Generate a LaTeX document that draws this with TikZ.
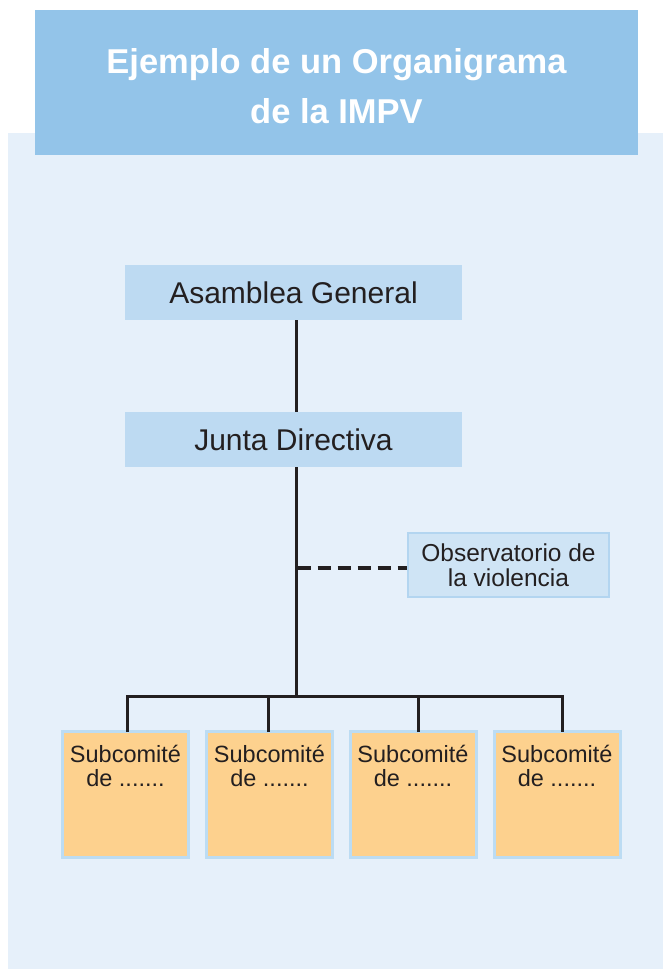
\documentclass[tikz,border=0pt]{standalone}
\usepackage{fontspec}
\setmainfont{Liberation Sans}
\definecolor{panel}{HTML}{E6F0FA}
\definecolor{titlefill}{HTML}{93C4E9}
\definecolor{boxfill}{HTML}{BDDAF2}
\definecolor{obsfill}{HTML}{CFE4F5}
\definecolor{obsline}{HTML}{B3D5F0}
\definecolor{subfill}{HTML}{FDD18E}
\definecolor{subline}{HTML}{BCDCF3}
\definecolor{ink}{HTML}{231F20}
\begin{document}
\begin{tikzpicture}[x=1pt,y=-1pt,
  titlebox/.style={fill=titlefill, minimum width=603pt, minimum height=145pt, inner sep=0pt,
     text=white, align=center, font=\fontsize{34.5}{50}\selectfont\bfseries},
  mainbox/.style={fill=boxfill, minimum width=337pt, minimum height=55pt, inner sep=0pt,
     text=ink, font=\fontsize{30}{32}\selectfont},
  obsbox/.style={fill=obsfill, draw=obsline, line width=2pt, minimum width=201pt, minimum height=64pt,
     inner sep=0pt, text=ink, align=center, font=\fontsize{24.5}{25.5}\selectfont},
  subbox/.style={fill=subfill, draw=subline, line width=3pt, minimum width=126pt, minimum height=126pt, inner sep=0pt},
  subtext/.style={anchor=north, inner sep=0pt, text=ink, align=center, font=\fontsize{23.5}{24}\selectfont},
  conn/.style={draw=ink, line width=3pt},
  dashconn/.style={draw=ink, line width=4pt, dash pattern=on 13pt off 7pt}
]
\useasboundingbox (0,0) rectangle (667,970);
\fill[panel] (8,133) rectangle (663,969);
\node[titlebox] (title) at (336.5,82.5) {};
\node[titlebox, fill=none, minimum size=0pt] (titletext) at ([yshift=-4pt]title.center) {Ejemplo de un Organigrama\\de la IMPV};

\node[mainbox] (asam) at (293.5,292.5) {Asamblea General};
\node[mainbox] (junta) at (293.5,439.5) {Junta Directiva};
\node[obsbox] (obs) at (508.5,565) {Observatorio de\\la violencia};

\node[subbox] (s1) at (125.5,794.5) {};
\node[subbox] (s2) at (269.5,794.5) {};
\node[subbox] (s3) at (413,794.5) {};
\node[subbox] (s4) at (557,794.5) {};
\node[subtext] (t1) at ([yshift=-14.5pt]s1.north) {Subcomité\\de .......};
\node[subtext] (t2) at ([yshift=-14.5pt]s2.north) {Subcomité\\de .......};
\node[subtext] (t3) at ([yshift=-14.5pt]s3.north) {Subcomité\\de .......};
\node[subtext] (t4) at ([yshift=-14.5pt]s4.north) {Subcomité\\de .......};

\coordinate (trunk) at (296,696);
\coordinate (b1) at (127,696);
\coordinate (b2) at (268,696);
\coordinate (b3) at (418,696);
\coordinate (b4) at (562,696);
\coordinate (dash) at (296,568);

\draw[conn] (asam.south -| trunk) -- (junta.north -| trunk);
\draw[conn] (junta.south -| trunk) -- ([yshift=1.5pt]trunk);
\draw[conn] ([yshift=-2pt]s1.north -| b1) -- (b1) -- (b4) -- ([yshift=-2pt]s4.north -| b4);
\draw[conn] ([yshift=-2pt]s2.north -| b2) -- (b2);
\draw[conn] ([yshift=-2pt]s3.north -| b3) -- (b3);
\draw[dashconn] ([xshift=1.5pt]dash) -- (obs.west |- dash);
\end{tikzpicture}
\end{document}
